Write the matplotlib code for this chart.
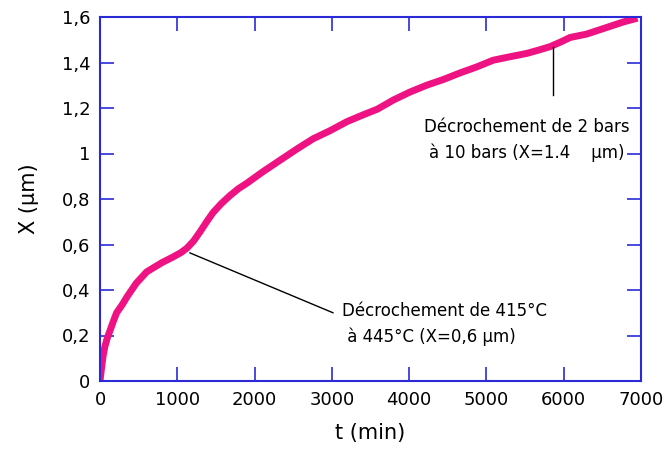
import matplotlib
matplotlib.use("Agg")
import matplotlib.pyplot as plt
from matplotlib.ticker import FuncFormatter

# growth curve
t_min = [0, 10, 21, 40, 62, 95, 128, 170, 215, 287, 349, 470, 605, 800, 944,
         1050, 1128, 1210, 1293, 1380, 1462, 1570, 1682, 1790, 1903, 2108,
         2328, 2549, 2759, 2975, 3195, 3405, 3590, 3795, 4010, 4226, 4440,
         4657, 4870, 5088, 5300, 5523, 5680, 5826, 5960, 6083, 6298, 6565,
         6770, 6954]
x_um = [0, 0.03, 0.06, 0.11, 0.15, 0.19, 0.22, 0.26, 0.30, 0.335, 0.37, 0.43,
        0.48, 0.52, 0.545, 0.565, 0.585, 0.615, 0.655, 0.70, 0.74, 0.78,
        0.815, 0.845, 0.87, 0.92, 0.97, 1.02, 1.065, 1.10, 1.14, 1.17, 1.195,
        1.235, 1.27, 1.30, 1.325, 1.354, 1.38, 1.41, 1.425, 1.44, 1.455,
        1.47, 1.49, 1.51, 1.525, 1.555, 1.578, 1.595]

x_ticks = [0, 1000, 2000, 3000, 4000, 5000, 6000, 7000]
y_ticks = [0, 0.2, 0.4, 0.6, 0.8, 1.0, 1.2, 1.4, 1.6]

note_top = "Décrochement de 2 bars\nà 10 bars (X=1.4    µm)"
note_low = "Décrochement de 415°C\n à 445°C (X=0,6 µm)"

plt.rcParams['font.family'] = ['DejaVu Sans']
blue = '#2a2ad8'

fig = plt.figure(figsize=(6.65, 4.5), dpi=100)
ax = fig.add_axes([100 / 665, 1 - 381 / 450, 541 / 665, 364 / 450])

ax.plot(t_min, x_um, color='#ee1283', linewidth=5, solid_joinstyle='round',
        solid_capstyle='butt')

ax.set_xlim(0, 7000)
ax.set_ylim(0, 1.6)
ax.set_xticks(x_ticks)
ax.set_yticks(y_ticks)
ax.yaxis.set_major_formatter(FuncFormatter(
    lambda v, p: ('%g' % round(v, 1)).replace('.', ',')))
ax.tick_params(direction='in', length=10, width=1.2, color=blue,
               top=True, right=True, labelsize=13, pad=7)
for s in ax.spines.values():
    s.set_color(blue)
    s.set_linewidth(1.5)

ax.set_xlabel('t (min)', fontsize=15, labelpad=10)
ax.set_ylabel('X (µm)', fontsize=15, labelpad=16)

# upper note
ax.plot([5860, 5860], [1.47, 1.257], color='black', linewidth=1)
ax.text(5524, 1.06, note_top, ha='center', va='center', fontsize=12,
        linespacing=1.5)

# lower note
ax.plot([1164, 3014], [0.563, 0.30], color='black', linewidth=1)
ax.text(3131, 0.25, note_low, ha='left', va='center', fontsize=12,
        linespacing=1.5)

fig.savefig('out.png', dpi=100)
